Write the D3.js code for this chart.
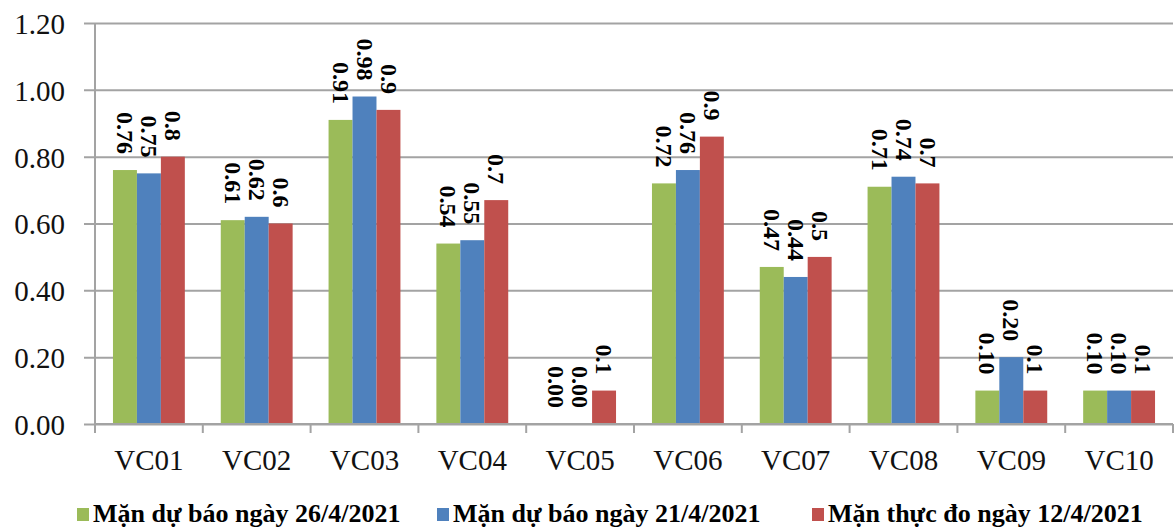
<!DOCTYPE html>
<meta charset="utf-8">
<script src="https://d3js.org/d3.v7.min.js"></script>
<style>
body { margin: 0; background: #fff; }
svg { display: block; }
text { font-family: "Liberation Serif", "Times New Roman", serif; }
</style>
<body>
<div class="chart"></div>
<script>

// data
var categories = ["VC01", "VC02", "VC03", "VC04", "VC05", "VC06", "VC07", "VC08", "VC09", "VC10"];
var forecast26 = [0.76, 0.61, 0.91, 0.54, 0.00, 0.72, 0.47, 0.71, 0.10, 0.10];
var forecast21 = [0.75, 0.62, 0.98, 0.55, 0.00, 0.76, 0.44, 0.74, 0.20, 0.10];
var measured12 = [0.80, 0.60, 0.94, 0.67, 0.10, 0.86, 0.50, 0.72, 0.10, 0.10];
var seriesNames = ["Mặn dự báo ngày 26/4/2021", "Mặn dự báo ngày 21/4/2021", "Mặn thực đo ngày 12/4/2021"];
var yTicks = [0, 0.2, 0.4, 0.6, 0.8, 1.0, 1.2];

var series = [
  {name: seriesNames[0], values: forecast26, color: "#9bbb59", fmt: d3.format(".2f")},
  {name: seriesNames[1], values: forecast21, color: "#4f81bd", fmt: d3.format(".2f")},
  {name: seriesNames[2], values: measured12, color: "#c0504d", fmt: d3.format(".1f")}
];

var width = 1175, height = 530;
var margin = {top: 23, right: 2, bottom: 106, left: 95};

var svg = d3.select(".chart").append("svg")
    .attr("width", width)
    .attr("height", height);

var x0 = d3.scaleBand()
    .domain(categories)
    .range([margin.left, width - margin.right])
    .paddingInner(0).paddingOuter(0);

var x1 = d3.scaleBand()
    .domain(d3.range(series.length))
    .range([0, x0.bandwidth()])
    .paddingInner(0).paddingOuter(0.75);

var y = d3.scaleLinear()
    .domain([0, 1.2])
    .range([height - margin.bottom, margin.top]);

var gridColor = "#a3a3a3";

// gridlines + y labels
var yAxis = svg.append("g")
    .attr("transform", "translate(" + margin.left + ",0)")
    .call(d3.axisLeft(y).tickValues(yTicks).tickFormat(d3.format(".2f"))
      .tickSize(-(width - margin.left - margin.right)).tickPadding(0));
yAxis.select(".domain").remove();
yAxis.selectAll(".tick line")
    .attr("x1", -11)
    .attr("stroke", gridColor)
    .attr("stroke-width", 2);
yAxis.selectAll(".tick text")
    .attr("x", -30)
    .attr("dy", "0.36em")
    .attr("fill", "#111")
    .style("font-size", "29px");

// y axis line
svg.append("line")
    .attr("x1", margin.left).attr("x2", margin.left)
    .attr("y1", y(1.2)).attr("y2", y(0))
    .attr("stroke", gridColor).attr("stroke-width", 2);

// bars
var groups = svg.selectAll("g.cat")
    .data(categories)
    .enter().append("g")
      .attr("class", "cat")
      .attr("transform", function(d) { return "translate(" + x0(d) + ",0)"; });

series.forEach(function(s, si) {
  groups.append("rect")
      .attr("x", x1(si))
      .attr("width", x1.bandwidth())
      .attr("y", function(d, i) { return y(s.values[i]); })
      .attr("height", function(d, i) { return y(0) - y(s.values[i]); })
      .attr("fill", s.color);
});

// x axis
var xAxis = svg.append("g")
    .attr("transform", "translate(0," + y(0) + ")");
xAxis.append("line")
    .attr("x1", margin.left).attr("x2", width - margin.right)
    .attr("stroke", gridColor).attr("stroke-width", 2);
xAxis.selectAll("line.tk")
    .data(categories.concat(["end"]))
    .enter().append("line")
      .attr("class", "tk")
      .attr("x1", function(d, i) { return i < categories.length ? x0(d) : x0.range()[1]; })
      .attr("x2", function(d, i) { return i < categories.length ? x0(d) : x0.range()[1]; })
      .attr("y1", 0).attr("y2", 9)
      .attr("stroke", gridColor).attr("stroke-width", 2);
xAxis.selectAll("text")
    .data(categories)
    .enter().append("text")
      .attr("x", function(d) { return x0(d) + x0.bandwidth() / 2; })
      .attr("y", 46)
      .attr("text-anchor", "middle")
      .attr("fill", "#111")
      .style("font-size", "29px")
      .text(function(d) { return d; });

// data labels, rotated
series.forEach(function(s, si) {
  groups.append("text")
      .attr("transform", function(d, i) {
        return "translate(" + (x1(si) + x1.bandwidth() / 2) + "," + (y(s.values[i]) - 16) + ") rotate(90)";
      })
      .attr("text-anchor", "end")
      .attr("dy", "0.33em")
      .attr("fill", "#000")
      .style("font-size", "24px")
      .style("font-weight", "bold")
      .text(function(d, i) { return s.fmt(s.values[i]); });
});

// legend
var legendX = [77, 437, 812];
var legend = svg.selectAll("g.legend")
    .data(series)
    .enter().append("g")
      .attr("class", "legend")
      .attr("transform", function(d, i) { return "translate(" + legendX[i] + ",522)"; });
legend.append("rect")
    .attr("x", 0).attr("y", -14)
    .attr("width", 12).attr("height", 13)
    .attr("fill", function(d) { return d.color; });
legend.append("text")
    .attr("x", 16)
    .attr("fill", "#000")
    .style("font-size", "26px")
    .style("font-weight", "bold")
    .text(function(d) { return d.name; });

</script>
</body>
